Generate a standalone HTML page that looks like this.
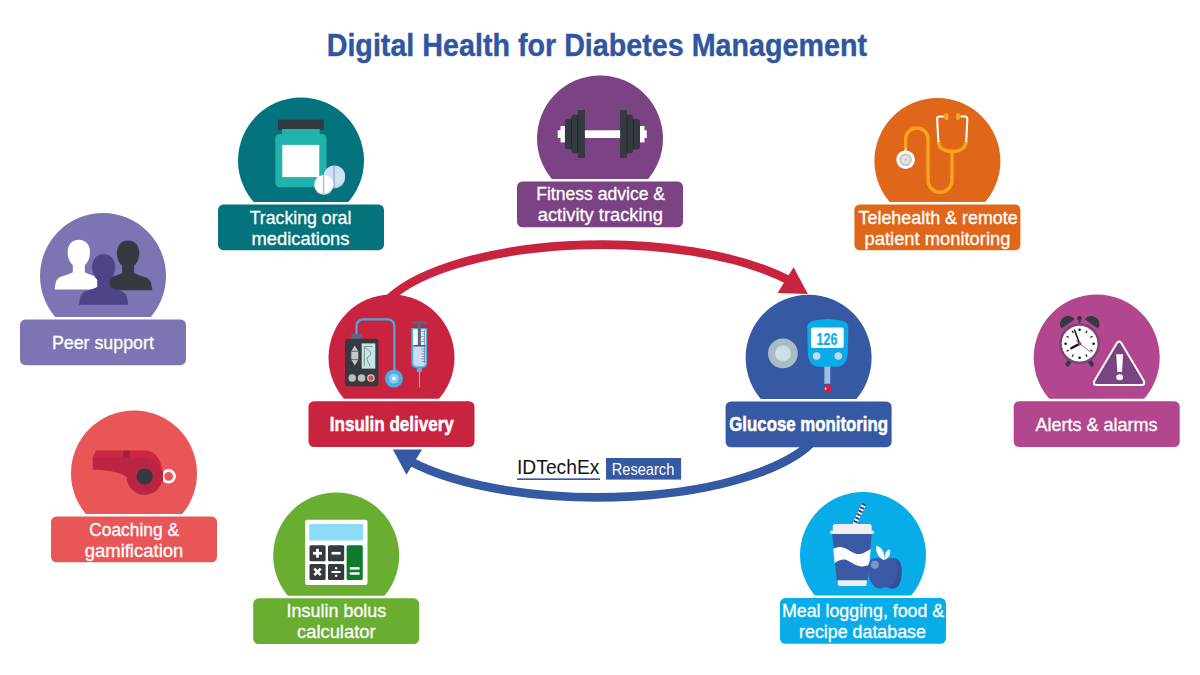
<!DOCTYPE html>
<html><head><meta charset="utf-8"><style>
html,body{margin:0;padding:0;background:#fff;}
body{width:1200px;height:675px;position:relative;overflow:hidden;}
svg{position:absolute;left:0;top:0;font-family:"Liberation Sans",sans-serif;}
</style></head><body>
<svg width="1200" height="675" viewBox="0 0 1200 675">
<path d="M383.00,305.02 A229.37,85.32 0 0 1 791.00,281.40" fill="none" stroke="#c9243f" stroke-width="8.6"/>
<polygon points="793.6,267.2 777.6,292.9 807.9,293.9" fill="#c9243f"/>
<path d="M817.00,436.98 A229.37,85.32 0 0 1 409.00,460.60" fill="none" stroke="#3659a3" stroke-width="8.6"/>
<polygon points="406.4,474.8 422.4,449.1 392.1,448.1" fill="#3659a3"/>
<circle cx="103.0" cy="276.0" r="63" fill="#7b75b4"/>
<circle cx="301.0" cy="160.5" r="63" fill="#04737e"/>
<circle cx="600.0" cy="138.5" r="63" fill="#7b4383"/>
<circle cx="937.4" cy="161.0" r="63" fill="#e0671a"/>
<circle cx="1096.7" cy="357.5" r="63" fill="#b2478f"/>
<circle cx="391.5" cy="357.5" r="63" fill="#c9243f"/>
<circle cx="808.6" cy="357.8" r="63" fill="#3659a3"/>
<circle cx="134.0" cy="473.4" r="63" fill="#e85658"/>
<circle cx="336.2" cy="555.5" r="63" fill="#6aae31"/>
<circle cx="863.0" cy="555.0" r="63" fill="#08ace8"/>
<g fill="#fff"><path d="M78.8,239.8 C85.8,239.8 90.0,244.8 90.0,252.3 C90.0,259.8 85.8,267.3 78.8,267.3 C71.8,267.3 67.6,259.8 67.6,252.3 C67.6,244.8 71.8,239.8 78.8,239.8 Z"/><path d="M72.8,261.8 L72.8,272.3 C69.8,274.3 64.8,275.3 60.8,276.8 C57.8,278.3 56.3,279.8 55.5,283.8 L54.5,289.6 L103.1,289.6 L102.1,283.8 C101.3,279.8 99.8,278.3 96.8,276.8 C92.8,275.3 87.8,274.3 84.8,272.3 L84.8,261.8 Z"/></g>
<g fill="#343a40"><path d="M128.1,240.4 C135.1,240.4 139.29999999999998,245.4 139.29999999999998,252.9 C139.29999999999998,260.4 135.1,267.9 128.1,267.9 C121.1,267.9 116.89999999999999,260.4 116.89999999999999,252.9 C116.89999999999999,245.4 121.1,240.4 128.1,240.4 Z"/><path d="M122.1,262.4 L122.1,272.9 C119.1,274.9 114.1,275.9 110.1,277.4 C107.1,278.9 105.6,280.4 104.8,284.4 L103.8,290.2 L152.4,290.2 L151.4,284.4 C150.6,280.4 149.1,278.9 146.1,277.4 C142.1,275.9 137.1,274.9 134.1,272.9 L134.1,262.4 Z"/></g>
<g fill="#4c4689" stroke="#443e80" stroke-width="0.6"><path d="M103.6,254.6 C110.6,254.6 114.8,259.6 114.8,267.1 C114.8,274.6 110.6,282.1 103.6,282.1 C96.6,282.1 92.39999999999999,274.6 92.39999999999999,267.1 C92.39999999999999,259.6 96.6,254.6 103.6,254.6 Z"/><path d="M97.6,276.6 L97.6,287.1 C94.6,289.1 89.6,290.1 85.6,291.6 C82.6,293.1 81.1,294.6 80.3,298.6 L79.3,304.4 L127.89999999999999,304.4 L126.89999999999999,298.6 C126.1,294.6 124.6,293.1 121.6,291.6 C117.6,290.1 112.6,289.1 109.6,287.1 L109.6,276.6 Z"/></g>
<rect x="277.9" y="119.7" width="45.8" height="10" fill="#343a40"/>
<rect x="282.1" y="129" width="37.6" height="7" fill="#1fb3ab"/>
<rect x="275.3" y="134" width="51.3" height="53.3" rx="4.5" fill="#1fb3ab"/>
<rect x="282.3" y="144.9" width="37" height="32.2" fill="#fff"/>
<circle cx="334.4" cy="177.6" r="10.7" fill="#a9c4dc"/>
<circle cx="334.4" cy="176.1" r="10.7" fill="#cfe1f3"/>
<line x1="334.1" y1="165.8" x2="334.1" y2="188" stroke="#98b1cb" stroke-width="1.4"/>
<circle cx="323.8" cy="185.6" r="9.5" fill="#c6c6c6"/>
<circle cx="323.8" cy="184.4" r="9.5" fill="#fff"/>
<line x1="323.6" y1="175.2" x2="323.6" y2="195" stroke="#bdbdbd" stroke-width="1.5"/>
<rect x="557.7" y="130.3" width="89.1" height="7.7" fill="#fff"/>
<rect x="560.5" y="126" width="6" height="16.4" fill="#fff"/>
<rect x="638.5" y="126" width="6" height="16.4" fill="#fff"/>
<rect x="564.9" y="118.8" width="8.5" height="30.8" rx="3.5" fill="#343a40"/>
<rect x="631.5" y="118.8" width="8.5" height="30.8" rx="3.5" fill="#343a40"/>
<rect x="571.3" y="114.6" width="8.5" height="38.9" rx="3.5" fill="#343a40"/>
<rect x="624.8" y="114.6" width="8.5" height="38.9" rx="3.5" fill="#343a40"/>
<rect x="577.9" y="110.1" width="7" height="47.9" fill="#343a40"/>
<rect x="620.1" y="110.1" width="6.8" height="47.9" fill="#343a40"/>
<rect x="577.2" y="115.5" width="0.9" height="37" fill="#23272c"/>
<rect x="626.7" y="115.5" width="0.9" height="37" fill="#23272c"/>
<rect x="571" y="119.5" width="0.9" height="29.5" fill="#23272c"/>
<rect x="632.9" y="119.5" width="0.9" height="29.5" fill="#23272c"/>
<path d="M905.6,151 L905.6,139.2 A11.2,11.2 0 0 1 928,139.2 L928,180.3 A12,12 0 0 0 952,180.3 L952,150" fill="none" stroke="#f9a51c" stroke-width="3.3"/>
<path d="M938.4,141.3 C938.8,148 944,151.5 952.1,151.5 C960.2,151.5 965.8,148 966.2,141.3" fill="none" stroke="#f9a51c" stroke-width="3.4"/>
<path d="M944,116.5 L939.4,116.5 Q937,116.5 937.1,119.2 L938.4,142 M960.4,116.5 L965,116.5 Q967.4,116.5 967.3,119.2 L966.2,142" fill="none" stroke="#fff" stroke-width="2.1"/>
<path d="M943.3,116.5 C944.5,113 946.5,112.3 947.9,113.3 C948.7,115.5 948.7,118 947.9,119.8 C946.5,120.8 944.5,120 943.3,116.5 Z" fill="#f9a51c"/>
<path d="M961.1,116.5 C959.9,113 957.9,112.3 956.5,113.3 C955.7,115.5 955.7,118 956.5,119.8 C957.9,120.8 959.9,120 961.1,116.5 Z" fill="#f9a51c"/>
<rect x="904.6" y="148.3" width="2" height="4" fill="#cfcfcf"/>
<circle cx="905.6" cy="159.7" r="9.3" fill="#fff"/>
<circle cx="905.6" cy="159.7" r="6.3" fill="#c4c4c4"/>
<circle cx="905.6" cy="159.7" r="4.5" fill="#e2e2e2"/>
<circle cx="905.6" cy="159.7" r="1" fill="#f9a51c"/>
<path d="M-8,0 A8,8 0 0 1 8,0 Z" fill="#343a40" transform="translate(1068,324) rotate(-35)"/>
<path d="M-8,0 A8,8 0 0 1 8,0 Z" fill="#343a40" transform="translate(1091.4,324) rotate(35)"/>
<rect x="1078.8" y="319" width="1.7" height="5" fill="#343a40"/>
<circle cx="1079.6" cy="318.4" r="2.3" fill="#343a40"/>
<line x1="1071" y1="359.5" x2="1067.5" y2="364.5" stroke="#343a40" stroke-width="4.2" stroke-linecap="round"/>
<line x1="1088.4" y1="359.5" x2="1091.9" y2="364.5" stroke="#343a40" stroke-width="4.2" stroke-linecap="round"/>
<circle cx="1079.6" cy="343.7" r="20.4" fill="#7b4383"/>
<circle cx="1079.6" cy="343.7" r="17.9" fill="#fff"/>
<circle cx="1079.60" cy="329.70" r="1.3" fill="#111"/><line x1="1085.85" y1="332.87" x2="1087.10" y2="330.71" stroke="#111" stroke-width="1.2"/><line x1="1090.43" y1="337.45" x2="1092.59" y2="336.20" stroke="#111" stroke-width="1.2"/><circle cx="1093.60" cy="343.70" r="1.3" fill="#111"/><line x1="1090.43" y1="349.95" x2="1092.59" y2="351.20" stroke="#111" stroke-width="1.2"/><line x1="1085.85" y1="354.53" x2="1087.10" y2="356.69" stroke="#111" stroke-width="1.2"/><circle cx="1079.60" cy="357.70" r="1.3" fill="#111"/><line x1="1073.35" y1="354.53" x2="1072.10" y2="356.69" stroke="#111" stroke-width="1.2"/><line x1="1068.77" y1="349.95" x2="1066.61" y2="351.20" stroke="#111" stroke-width="1.2"/><circle cx="1065.60" cy="343.70" r="1.3" fill="#111"/><line x1="1068.77" y1="337.45" x2="1066.61" y2="336.20" stroke="#111" stroke-width="1.2"/><line x1="1073.35" y1="332.87" x2="1072.10" y2="330.71" stroke="#111" stroke-width="1.2"/>
<line x1="1079.6" y1="343.7" x2="1071.3" y2="348.3" stroke="#111" stroke-width="2.3" stroke-linecap="round"/>
<line x1="1079.6" y1="343.7" x2="1074.6" y2="330.3" stroke="#111" stroke-width="1.5" stroke-linecap="round"/>
<line x1="1076" y1="340.5" x2="1090.7" y2="352.3" stroke="#7b4383" stroke-width="0.8"/>
<circle cx="1079.6" cy="343.7" r="1.8" fill="#7b4383"/>
<path d="M1116.6,343.5 Q1119.1,339.5 1121.6,343.5 L1143.6,380.5 Q1146,385 1141,385 L1097.2,385 Q1092.2,385 1094.6,380.5 Z" fill="#7b4383" stroke="#fff" stroke-width="2" stroke-linejoin="round"/>
<path d="M1116.2,354.3 L1123.1,354.3 L1122,372 L1117.3,372 Z" fill="#fff"/>
<ellipse cx="1119.7" cy="377.2" rx="3.4" ry="3" fill="#fff"/>
<path d="M356.5,336 L356.5,326 A6.6,6.6 0 0 1 363.1,319.4 L387.6,319.4 A6.8,6.8 0 0 1 394.4,326.2 L394.4,376" fill="none" stroke="#4aa8dc" stroke-width="2.3"/>
<rect x="351.3" y="334" width="10.4" height="5" fill="#5a6a80"/>
<rect x="345" y="338.7" width="33.4" height="47.5" rx="2.5" fill="#343a40"/>
<rect x="361.7" y="343.4" width="13.6" height="25.2" fill="#c5e6e4"/>
<path d="M364.3,346.4 L364.3,366.2 M364.3,346.4 L372.4,346.4 M365,347.5 C368,350 371.2,351.5 370.7,354.2 C370.2,356.8 366.6,356.5 367,359.2 C367.4,361.8 369.6,363 369.7,366" fill="none" stroke="#6d7979" stroke-width="0.8"/>
<polygon points="354.8,345.5 358.3,351.2 358.3,359.8 354.8,365.4 351.3,359.8 351.3,351.2" fill="#c8c8c8"/>
<line x1="351.3" y1="351.3" x2="358.3" y2="351.3" stroke="#343a40" stroke-width="0.7"/>
<line x1="351.3" y1="359.7" x2="358.3" y2="359.7" stroke="#343a40" stroke-width="0.7"/>
<circle cx="352.2" cy="378" r="3.8" fill="#bdbdbd"/>
<circle cx="361.6" cy="378" r="3.8" fill="#bdbdbd"/>
<circle cx="370.9" cy="378" r="3.8" fill="#cfcfcf"/>
<circle cx="370.9" cy="378" r="2.6" fill="#e8453c"/>
<circle cx="393.9" cy="378.6" r="9" fill="#4aaee0"/>
<circle cx="393.9" cy="378.6" r="5" fill="#8fcaee"/>
<circle cx="393.9" cy="378.6" r="2" fill="#e6f1f9"/>
<rect x="411.9" y="321.2" width="15" height="2.5" rx="1.2" fill="#56677d"/>
<path d="M411.4,328.1 L427.1,328.1 L427.1,363 Q427.1,367.8 422.5,367.8 L416,367.8 Q411.4,367.8 411.4,363 Z" fill="#4fb3e0"/>
<path d="M413.3,329.6 L425.6,329.6 L425.6,362.5 Q425.6,366.3 421.8,366.3 L417.1,366.3 Q413.3,366.3 413.3,362.5 Z" fill="#c9def2"/>
<rect x="413.3" y="329.6" width="12.3" height="15.6" fill="#e6f3fa"/>
<rect x="413.3" y="329.6" width="3.2" height="15.6" fill="#f7fbfd"/>
<rect x="417.9" y="323.5" width="3" height="22" fill="#56677d"/>
<rect x="413.3" y="345" width="12.3" height="1.5" fill="#4a5868"/>
<path d="M421.3,331.5 h3.5 M422.3,334 h2.5 M421.3,336.5 h3.5 M422.3,339 h2.5 M421.3,341.5 h3.5 M421.3,349 h3.5 M422.3,351.5 h2.5 M421.3,354 h3.5 M422.3,356.5 h2.5 M421.3,359 h3.5 M422.3,361.5 h2.5 M424.5,330 v33" stroke="#6b7a8c" stroke-width="0.7"/>
<path d="M416.6,367.5 L422.2,367.5 L421.8,372.1 L417,372.1 Z" fill="#4fb3e0"/>
<line x1="419.5" y1="372" x2="419.5" y2="387.3" stroke="#b7c3cb" stroke-width="1"/>
<circle cx="782.9" cy="353.4" r="14.9" fill="#a9bcc6"/>
<circle cx="782.9" cy="353.4" r="7.9" fill="#c9e1e6"/>
<rect x="824.4" y="364" width="5.8" height="19.8" fill="#9dc0e6"/>
<path d="M807.2,328 C807.2,321.5 812,320 827.8,318.9 C843.5,320 848.4,321.5 848.4,328 L847.8,352 C847.6,362 843,366.8 836,366.8 L819.5,366.8 C812.5,366.8 808,362 807.8,352 Z" fill="#0aabe6"/>
<rect x="811" y="327.6" width="32.7" height="20.4" rx="2" fill="#fff"/>
<text x="816.6" y="344.6" font-family="Liberation Sans" font-weight="bold" font-size="17" fill="#0aabe6" textLength="20.8" lengthAdjust="spacingAndGlyphs" stroke="#0aabe6" stroke-width="0.2">126</text>
<circle cx="816.6" cy="356" r="3.8" fill="#c4d9e6"/>
<circle cx="838.3" cy="356" r="3.8" fill="#c4d9e6"/>
<path d="M828,383.2 C826.5,385.5 824.2,386.8 824.2,389 A3.8,3.8 0 0 0 831.8,389 C831.8,386.8 829.5,385.5 828,383.2 Z" fill="#d1203a"/>
<ellipse cx="825.6" cy="388.6" rx="0.9" ry="1.4" fill="#f4c0c8"/>
<circle cx="168.6" cy="476.3" r="5.85" fill="none" stroke="#fff" stroke-width="2.9"/>
<path d="M95.9,450.6 L145,450.6 C156,450.6 162.5,461 162.5,476.5 L126,476.5 L92.8,457.3 Z" fill="#cc2742"/>
<path d="M92.8,457.3 L142,457.3 C154,457.3 162.5,466 162.5,476.5 A17.9,17.9 0 0 1 126.7,477.5 C124,473 108,469.8 92.8,469.8 Z" fill="#bb2442"/>
<rect x="123.2" y="450.6" width="6.4" height="6.7" fill="#a3213b"/>
<circle cx="144.6" cy="476.5" r="8.1" fill="#343a40"/>
<rect x="161.9" y="471" width="1.1" height="10.5" fill="#c01c38"/>
<rect x="305.1" y="519.7" width="62.4" height="65.2" rx="2.2" fill="#fff"/>
<rect x="309.2" y="523.9" width="53.9" height="16.7" rx="1.2" fill="#8ddcf5"/>
<rect x="309.5" y="545.2" width="16.1" height="16" rx="1.5" fill="#343a40"/>
<rect x="328" y="545.2" width="16.2" height="16" rx="1.5" fill="#343a40"/>
<rect x="309.5" y="563.9" width="16.1" height="16" rx="1.5" fill="#343a40"/>
<rect x="328" y="563.9" width="16.2" height="16" rx="1.5" fill="#343a40"/>
<rect x="346.6" y="545.2" width="16.2" height="34.7" rx="1.5" fill="#0e7a30"/>
<rect x="313" y="551.9" width="9" height="2.7" fill="#fff"/><rect x="316.15" y="548.75" width="2.7" height="9" fill="#fff"/>
<rect x="331.6" y="551.9" width="9" height="2.7" fill="#fff"/>
<g transform="translate(317.5,571.9) rotate(45)"><rect x="-4.6" y="-1.35" width="9.2" height="2.7" fill="#fff"/><rect x="-1.35" y="-4.6" width="2.7" height="9.2" fill="#fff"/></g>
<rect x="331.6" y="571" width="9" height="2" fill="#fff"/><circle cx="336.1" cy="568.3" r="1.2" fill="#fff"/><circle cx="336.1" cy="575.7" r="1.2" fill="#fff"/>
<rect x="349.8" y="567.2" width="9.8" height="2.4" fill="#fff"/><rect x="349.8" y="572.3" width="9.8" height="2.4" fill="#fff"/>
<line x1="853.6" y1="526" x2="864.2" y2="503.6" stroke="#fff" stroke-width="4.3"/>
<line x1="853.6" y1="526" x2="864.2" y2="503.6" stroke="#2c3f86" stroke-width="4.3" stroke-dasharray="1.9,1.9"/>
<polygon points="832.3,533.9 871.7,533.9 867.5,580.6 836.7,580.6" fill="#3b5aa6"/>
<path d="M833.3,548.8 C837,547 840,546.8 842,547.2 C848,548.5 853,554 858.9,554.1 C864,554.2 867,550.5 870.7,549.3 L869.3,564.8 C866,566.5 863,566.5 861.1,566.4 C853,565.5 849,559.5 844,559.5 C840,559.5 836,562 834.6,563.2 Z" fill="#fff"/>
<path d="M837.6,580.3 L867,580.3 L866.6,584.5 Q866.5,586.1 864.5,586.1 L840,586.1 Q838,586.1 837.9,584.5 Z" fill="#eeeef2"/>
<rect x="832.8" y="524" width="38.9" height="8" rx="2.5" fill="#efeff3"/>
<rect x="830.1" y="530.5" width="43.8" height="3.4" rx="1.5" fill="#efeff3"/>
<path d="M884,560.5 C880,557.5 876,557.5 872.5,559 C869,561 868,565 868,569.5 C868,576 870,582 873.5,585.5 C875.5,587.8 878,588.8 880.5,588.5 C882.5,588.2 884,587.3 886,587.3 C888,587.3 889.5,588.2 891.5,588.5 C894,588.8 896.5,587.8 898.5,585.5 C901,582 901.6,576 901.6,569.5 C901.6,565 900,561 897,559 C893.5,557.5 889,557.5 884,560.5 Z" fill="#3b5aa6"/>
<path d="M895,558.2 C899.5,560 901.6,564.5 901.6,569.5 C901.6,576 901,582 898.5,585.5 C896.5,587.8 894,588.8 891.5,588.5 C890,588.3 889,588 888,587.6 C894,584.5 897.5,578 897.5,570 C897.5,565 896.5,561 895,558.2 Z" fill="#33509a"/>
<circle cx="874.9" cy="564.8" r="4" fill="#7f93c9"/>
<path d="M884,560 C878,558 875,551 876.5,545.6 C882,547.5 885,553 884,560 Z" fill="#fff"/>
<path d="M884.5,560 C884,554 886.5,550.5 889.9,549.3 C891,554 889,558 884.5,560 Z" fill="#fff"/>
<path d="M884.5,560 C884,555 885,552.5 886.5,551.2 C886.5,555 886,558 884.5,560 Z" fill="#cfcfcf"/>
<rect x="20.0" y="319.4" width="166" height="45.8" rx="5.5" fill="#7b75b4" stroke="#fff" stroke-width="5" paint-order="stroke"/>
<rect x="218.0" y="204.4" width="166" height="45.8" rx="5.5" fill="#04737e" stroke="#fff" stroke-width="5" paint-order="stroke"/>
<rect x="517.0" y="181.5" width="166" height="45.8" rx="5.5" fill="#7b4383" stroke="#fff" stroke-width="5" paint-order="stroke"/>
<rect x="854.4" y="204.5" width="166" height="45.8" rx="5.5" fill="#e0671a" stroke="#fff" stroke-width="5" paint-order="stroke"/>
<rect x="1013.7" y="401.2" width="166" height="45.8" rx="5.5" fill="#b2478f" stroke="#fff" stroke-width="5" paint-order="stroke"/>
<rect x="308.5" y="401.2" width="166" height="45.8" rx="5.5" fill="#c9243f" stroke="#fff" stroke-width="5" paint-order="stroke"/>
<rect x="725.6" y="401.5" width="166" height="45.8" rx="5.5" fill="#3659a3" stroke="#fff" stroke-width="5" paint-order="stroke"/>
<rect x="51.0" y="516.5" width="166" height="45.8" rx="5.5" fill="#e85658" stroke="#fff" stroke-width="5" paint-order="stroke"/>
<rect x="253.2" y="598.3" width="166" height="45.8" rx="5.5" fill="#6aae31" stroke="#fff" stroke-width="5" paint-order="stroke"/>
<rect x="780.0" y="598.0" width="166" height="45.8" rx="5.5" fill="#08ace8" stroke="#fff" stroke-width="5" paint-order="stroke"/>
<clipPath id="cb"><rect x="700" y="446.6" width="200" height="30"/></clipPath><path clip-path="url(#cb)" d="M817.00,436.98 A229.37,85.32 0 0 1 409.00,460.60" fill="none" stroke="#3659a3" stroke-width="8.6"/>
<text x="51.90" y="349.00" font-size="18.5"  fill="#fff" textLength="101.99" lengthAdjust="spacingAndGlyphs" stroke="#fff" stroke-width="0.3">Peer support</text>
<text x="249.70" y="223.60" font-size="18.5"  fill="#fff" textLength="101.70" lengthAdjust="spacingAndGlyphs" stroke="#fff" stroke-width="0.3">Tracking oral</text>
<text x="251.50" y="244.90" font-size="18.5"  fill="#fff" textLength="98.00" lengthAdjust="spacingAndGlyphs" stroke="#fff" stroke-width="0.3">medications</text>
<text x="536.20" y="200.40" font-size="18.5"  fill="#fff" textLength="128.91" lengthAdjust="spacingAndGlyphs" stroke="#fff" stroke-width="0.3">Fitness advice &amp;</text>
<text x="537.70" y="220.50" font-size="18.5"  fill="#fff" textLength="125.31" lengthAdjust="spacingAndGlyphs" stroke="#fff" stroke-width="0.3">activity tracking</text>
<text x="858.50" y="223.60" font-size="18.5"  fill="#fff" textLength="159.20" lengthAdjust="spacingAndGlyphs" stroke="#fff" stroke-width="0.3">Telehealth &amp; remote</text>
<text x="864.60" y="244.50" font-size="18.5"  fill="#fff" textLength="145.80" lengthAdjust="spacingAndGlyphs" stroke="#fff" stroke-width="0.3">patient monitoring</text>
<text x="1035.50" y="431.30" font-size="18.5"  fill="#fff" textLength="122.11" lengthAdjust="spacingAndGlyphs" stroke="#fff" stroke-width="0.3">Alerts &amp; alarms</text>
<text x="329.80" y="431.30" font-size="20.2" font-weight="bold" fill="#fff" textLength="124.00" lengthAdjust="spacingAndGlyphs" stroke="#fff" stroke-width="0.55">Insulin delivery</text>
<text x="729.30" y="431.40" font-size="20.2" font-weight="bold" fill="#fff" textLength="158.70" lengthAdjust="spacingAndGlyphs" stroke="#fff" stroke-width="0.55">Glucose monitoring</text>
<text x="89.20" y="535.70" font-size="18.5"  fill="#fff" textLength="90.00" lengthAdjust="spacingAndGlyphs" stroke="#fff" stroke-width="0.3">Coaching &amp;</text>
<text x="84.70" y="556.70" font-size="18.5"  fill="#fff" textLength="98.60" lengthAdjust="spacingAndGlyphs" stroke="#fff" stroke-width="0.3">gamification</text>
<text x="286.60" y="617.30" font-size="18.5"  fill="#fff" textLength="99.70" lengthAdjust="spacingAndGlyphs" stroke="#fff" stroke-width="0.3">Insulin bolus</text>
<text x="297.00" y="638.20" font-size="18.5"  fill="#fff" textLength="78.60" lengthAdjust="spacingAndGlyphs" stroke="#fff" stroke-width="0.3">calculator</text>
<text x="782.00" y="617.10" font-size="18.5"  fill="#fff" textLength="162.20" lengthAdjust="spacingAndGlyphs" stroke="#fff" stroke-width="0.3">Meal logging, food &amp;</text>
<text x="799.10" y="637.50" font-size="18.5"  fill="#fff" textLength="126.80" lengthAdjust="spacingAndGlyphs" stroke="#fff" stroke-width="0.3">recipe database</text>
<text x="326.70" y="55.70" font-size="30.9" font-weight="bold" fill="#3156a0" textLength="540.30" lengthAdjust="spacingAndGlyphs" stroke="#3156a0" stroke-width="0.4">Digital Health for Diabetes Management</text>
<text x="517.00" y="474.40" font-size="20.2"  fill="#141414" textLength="82.41" lengthAdjust="spacingAndGlyphs" >IDTechEx</text>
<rect x="517" y="478.4" width="83" height="1.5" fill="#2444a8"/>
<rect x="606" y="458" width="75.1" height="21.6" fill="#3659a3"/>
<text x="611.70" y="474.70" font-size="16.1"  fill="#fff" textLength="62.60" lengthAdjust="spacingAndGlyphs" >Research</text>
</svg>
</body></html>
